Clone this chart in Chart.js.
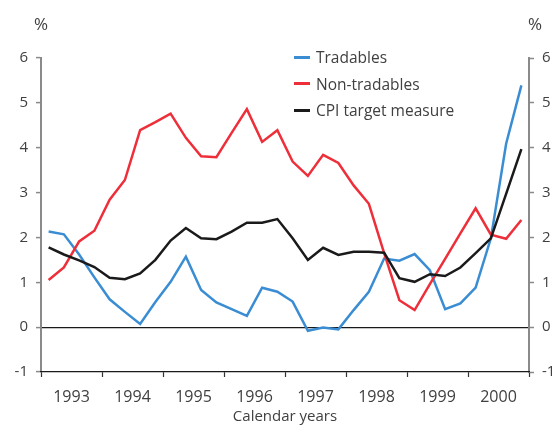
<!DOCTYPE html>
<html><head><meta charset="utf-8">
<script src="https://cdn.jsdelivr.net/npm/chart.js@4/dist/chart.umd.min.js"></script>
<style>
body{margin:0;background:#fff;}
#wrap{position:relative;width:552px;height:425px;overflow:hidden;}
#c{position:absolute;left:0;top:0;}
.pct{position:absolute;top:12px;font:17px 'Open Sans',sans-serif;color:#404040;width:30px;text-align:center;}
#legend{position:absolute;left:294px;top:44px;font:15.5px 'Open Sans',sans-serif;color:#404040;}
#legend div{height:26.5px;display:flex;align-items:center;}
#legend span.l{display:inline-block;width:16px;height:3px;margin-right:6px;}
</style></head>
<body>
<div id="wrap">
<canvas id="c" width="552" height="425"></canvas>
<div class="pct" style="left:26px">%</div>
<div class="pct" style="left:520px">%</div>
<div id="legend"></div>
</div>
<script>
const years = ['1993','1994','1995','1996','1997','1998','1999','2000'];
const quartersPerYear = 4;
const seriesNames = ['Tradables','Non-tradables','CPI target measure'];
const tradables = [2.13,2.07,1.62,1.11,0.62,0.34,0.07,0.56,1.01,1.57,0.83,0.55,0.40,0.25,0.88,0.79,0.57,-0.08,-0.01,-0.05,0.38,0.79,1.53,1.48,1.63,1.27,0.40,0.53,0.88,1.98,4.09,5.39];
const nonTradables = [1.05,1.33,1.91,2.15,2.84,3.28,4.39,4.57,4.76,4.22,3.81,3.79,4.33,4.86,4.13,4.39,3.69,3.37,3.84,3.66,3.16,2.75,1.65,0.60,0.38,0.96,1.52,2.09,2.65,2.06,1.97,2.39];
const cpiTarget = [1.78,1.62,1.49,1.34,1.10,1.07,1.20,1.50,1.93,2.21,1.98,1.96,2.13,2.33,2.33,2.41,1.98,1.50,1.77,1.61,1.68,1.68,1.66,1.09,1.01,1.18,1.14,1.33,1.65,1.98,2.97,3.97];
const yTicks = [-1,0,1,2,3,4,5,6];
const colors = ['#3a8dd3','#ee2f3a','#1a1a1a'];

const nQ = years.length*quartersPerYear;
const toPts = arr => arr.map((v,i)=>({x:i+0.5,y:v}));
const font = {family:"'Open Sans', sans-serif", size:15};
const txt = '#404040';
const axisGray = '#8a8a8a';

const yCommon = {
  type:'linear', min:yTicks[0], max:yTicks[yTicks.length-1],
  afterBuildTicks: a => { a.ticks = yTicks.map(v=>({value:v})); },
  ticks:{font, color:txt, padding:8},
  border:{color:axisGray, width:2},
};

new Chart(document.getElementById('c'), {
  type:'line',
  data:{datasets:[
    {label:seriesNames[0], data:toPts(tradables), borderColor:colors[0], order:3},
    {label:seriesNames[1], data:toPts(nonTradables), borderColor:colors[1], order:2},
    {label:seriesNames[2], data:toPts(cpiTarget), borderColor:colors[2], order:1},
  ]},
  options:{
    responsive:false, animation:false,
    layout:{padding:{top:58,left:0,right:0,bottom:0}},
    elements:{line:{borderWidth:2.5, tension:0, fill:false}, point:{radius:0}},
    plugins:{legend:{display:false}, tooltip:{enabled:false}},
    scales:{
      y: Object.assign({}, yCommon, {position:'left',
        afterFit: s=>{s.width=41;},
        grid:{drawOnChartArea:true, tickLength:5, tickColor:axisGray, tickWidth:1.5,
          color: c => c.tick && c.tick.value===0 ? '#1a1a1a' : 'rgba(0,0,0,0)', lineWidth:1.2}}),
      y2: Object.assign({}, yCommon, {position:'right',
        afterFit: s=>{s.width=23;},
        grid:{drawOnChartArea:false, tickLength:5, tickColor:axisGray, tickWidth:1.5}}),
      x: {type:'linear', position:'bottom', min:0, max:nQ,
        afterBuildTicks: a => { a.ticks = years.map((y,i)=>({value:i*quartersPerYear})).concat([{value:nQ}]); },
        afterFit: s=>{s.height=5;},
        ticks:{display:false},
        border:{color:'#1a1a1a', width:1.2},
        grid:{drawOnChartArea:false, tickLength:5, tickColor:'#333', tickWidth:1.2}},
      xl: {type:'linear', position:'bottom', min:0, max:nQ,
        afterBuildTicks: a => { a.ticks = years.map((y,i)=>({value:i*quartersPerYear+quartersPerYear/2})); },
        afterFit: s=>{s.height=48;},
        ticks:{font:{family:font.family,size:16}, color:txt, padding:3, autoSkip:false, maxRotation:0,
          callback:(v,i)=>years[i]},
        grid:{display:false}, border:{display:false},
        title:{display:true, text:'Calendar years', font, color:txt, padding:{top:0,bottom:-1}}}
    }
  }
});

const lg = document.getElementById('legend');
seriesNames.forEach((n,i)=>{
  const d=document.createElement('div');
  d.innerHTML='<span class="l" style="background:'+colors[i]+'"></span>'+n;
  lg.appendChild(d);
});
</script>
</body></html>
